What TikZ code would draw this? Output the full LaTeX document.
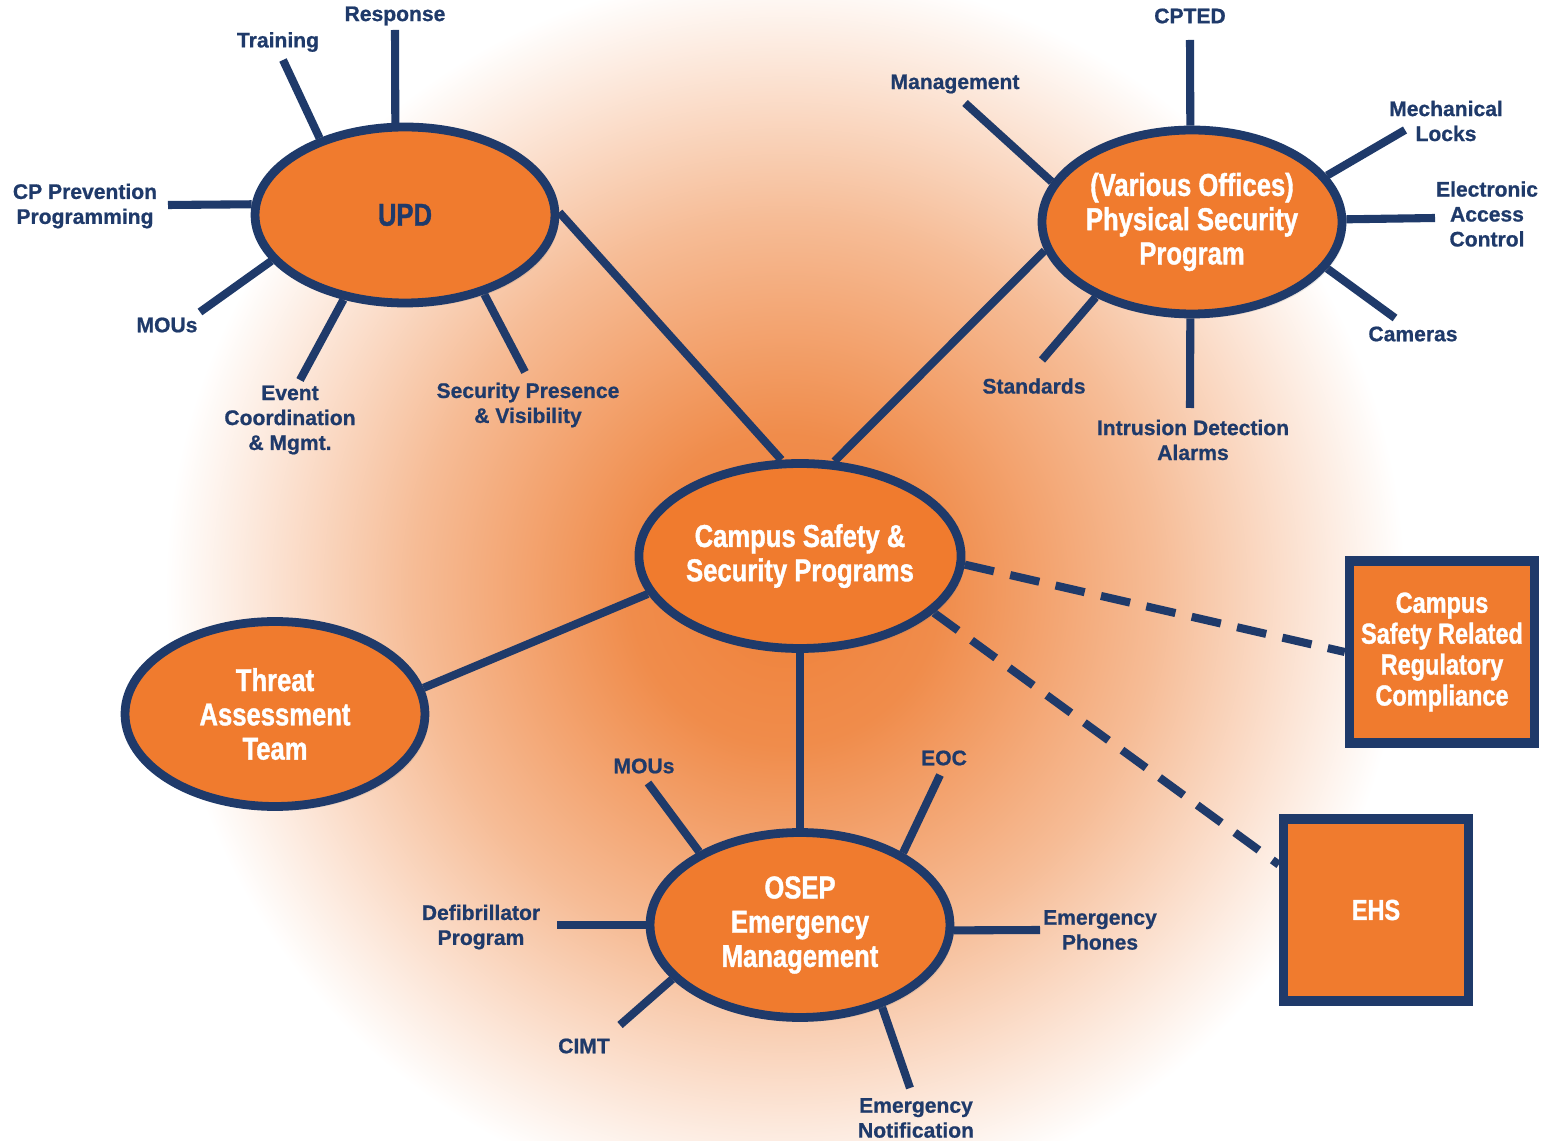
\documentclass[tikz,border=0pt]{standalone}
\usepackage{fontspec}
\setmainfont{Liberation Sans}[BoldFeatures={FakeBold=0.8}]
\newfontfamily\narrowfont{Liberation Sans}[FakeStretch=0.81, BoldFeatures={FakeBold=1.2}]
\usetikzlibrary{shapes.geometric,shadows}

\definecolor{navy}{HTML}{1F3A6A}
\definecolor{csorange}{HTML}{F07B2E}
\definecolor{glowA}{HTML}{EF8139}
\definecolor{glowB}{HTML}{F08C4B}
\definecolor{glowC}{HTML}{F6BC96}
\definecolor{glowD}{HTML}{FCE6D8}
\pgfdeclareradialshading{glowfill}{\pgfpoint{0bp}{0bp}}{%
  color(0bp)=(glowA); color(6.25bp)=(glowB); color(15bp)=(glowC);
  color(21.25bp)=(glowD); color(25bp)=(white); color(50bp)=(white)}
\pgfdeclarelayer{back}
\pgfdeclarelayer{links}
\pgfsetlayers{back,links,main}

\begin{document}
\begin{tikzpicture}[
    x=0.02cm, y=-0.02cm,
    hub/.style={ellipse, draw=navy, line width=5pt, fill=csorange,
      minimum width=6cm, minimum height=3.7cm, inner sep=0pt,
      align=center, text=white,
      font=\narrowfont\bfseries\fontsize{18}{19.5}\selectfont,
      drop shadow={opacity=0.18, shadow xshift=2pt, shadow yshift=-2.5pt}},
    office/.style={rectangle, draw=navy, line width=5.4pt, fill=csorange,
      minimum width=3.7cm, minimum height=3.64cm, inner sep=0pt,
      align=center, text=white,
      font=\narrowfont\bfseries\fontsize{16.5}{17.6}\selectfont,
      drop shadow={opacity=0.18, shadow xshift=2pt, shadow yshift=-2.5pt}},
    leaf/.style={text=navy, align=center, inner sep=1pt,
      font=\bfseries\fontsize{12}{14.2}\selectfont},
    link/.style={draw=navy, line width=4.6pt},
    dlink/.style={link, dash pattern=on 17pt off 9.5pt}]

    \useasboundingbox (0,0) rectangle (1545,1141);
    \begin{pgfonlayer}{back}
      \fill[white] (0,0) rectangle (1545,1141);
      \clip (0,0) rectangle (1545,1141);
      \shade[shading=glowfill] (165,-30) rectangle (1405,1210);
    \end{pgfonlayer}

    % hubs

    \node[hub] (campus) at (800,556) {Campus Safety \&\\Security Programs};
    \node[hub, text=navy, minimum height=3.52cm] (upd) at (405,215) {UPD};
    \node[hub, minimum height=3.68cm] (phys) at (1192,222)
      {(Various Offices)\\Physical Security\\Program};
    \node[hub] (threat) at (275,714) {Threat\\Assessment\\Team};
    \node[hub] (osep) at (800,925) {OSEP\\Emergency\\Management};
    \node[office] (reg) at (1442,652)
      {Campus\\Safety Related\\Regulatory\\Compliance};
    \node[office] (ehs) at (1376,910) {EHS};

    % UPD labels

    \node[leaf] (u1) at (395,16) {Response};
    \node[leaf] (u2) at (278,42) {Training};
    \node[leaf] (u3) at (85,206) {CP Prevention\\Programming};
    \node[leaf] (u4) at (167,325) {MOUs};
    \node[leaf] (u5) at (290,420) {Event\\Coordination\\\& Mgmt.};
    \node[leaf] (u6) at (528,405) {Security Presence\\\& Visibility};

    \coordinate (u1e) at (395,30);
    \coordinate (u2e) at (283,60);
    \coordinate (u3e) at (168,205);
    \coordinate (u4e) at (200,312);
    \coordinate (u5e) at (300,380);
    \coordinate (u6e) at (525,372);

    % physical security labels

    \node[leaf] (p1) at (1190,16) {CPTED};
    \node[leaf] (p2) at (955,84) {Management};
    \node[leaf] (p3) at (1446,121) {Mechanical\\Locks};
    \node[leaf] (p4) at (1487,214) {Electronic\\Access\\Control};
    \node[leaf] (p5) at (1413,334) {Cameras};
    \node[leaf] (p6) at (1193,440) {Intrusion Detection\\Alarms};
    \node[leaf] (p7) at (1034,386) {Standards};

    \coordinate (p1e) at (1190,40);
    \coordinate (p2e) at (965,103);
    \coordinate (p3e) at (1405,130);
    \coordinate (p4e) at (1435,218);
    \coordinate (p5e) at (1395,318);
    \coordinate (p6e) at (1190,408);
    \coordinate (p7e) at (1042,360);

    % OSEP labels

    \node[leaf] (o1) at (644,766) {MOUs};
    \node[leaf] (o2) at (944,758) {EOC};
    \node[leaf] (o3) at (481,927) {Defibrillator\\Program};
    \node[leaf] (o4) at (1100,930) {Emergency\\Phones};
    \node[leaf] (o5) at (584,1046) {CIMT};
    \node[leaf] (o6) at (916,1118) {Emergency\\Notification};

    \coordinate (o1e) at (648,783);
    \coordinate (o2e) at (940,775);
    \coordinate (o3e) at (557,925);
    \coordinate (o4e) at (1040,930);
    \coordinate (o5e) at (620,1025);
    \coordinate (o6e) at (910,1088);

    % edges

    \begin{pgfonlayer}{links}
      \draw[link] (campus.101) -- (upd.1);
      \draw[link] (campus.70) -- (phys.191);
      \draw[link] (campus.194) -- (threat.10);
      \draw[link] (campus.south) -- (osep.north);
      \draw[dlink] (campus.357) -- (reg.west);
      \draw[dlink] (campus.337) -- (ehs.155);

      \draw[link] (upd.96) -- (u1e);
      \draw[link] (upd.138) -- (u2e);
      \draw[link] (upd.176) -- (u3e);
      \draw[link] (upd.199) -- (u4e);
      \draw[link] (upd.234) -- (u5e);
      \draw[link] (upd.315) -- (u6e);

      \draw[link] (phys.91) -- (p1e);
      \draw[link] (phys.164) -- (p2e);
      \draw[link] (phys.19) -- (p3e);
      \draw[link] (phys.1) -- (p4e);
      \draw[link] (phys.341) -- (p5e);
      \draw[link] (phys.269) -- (p6e);
      \draw[link] (phys.218) -- (p7e);

      \draw[link] (osep.144) -- (o1e);
      \draw[link] (osep.35) -- (o2e);
      \draw[link] (osep.180) -- (o3e);
      \draw[link] (osep.358) -- (o4e);
      \draw[link] (osep.203) -- (o5e);
      \draw[link] (osep.315) -- (o6e);
    \end{pgfonlayer}
  \end{tikzpicture}
\end{document}
